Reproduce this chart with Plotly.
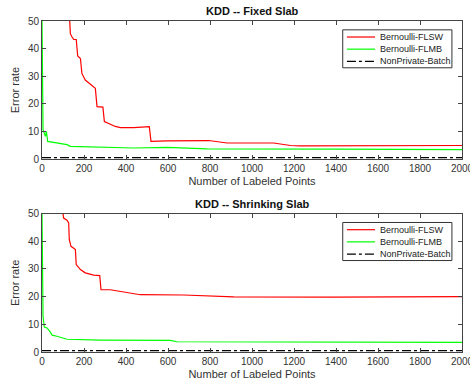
import plotly.graph_objects as go

# ---- data: top panel (Fixed Slab) ----
fixed_flsw_x = [132, 135, 143, 151, 163, 170, 183, 190, 206, 246, 254, 262, 290, 297, 325, 349, 373, 437, 511, 519, 595, 754, 794, 881, 1103, 1183, 1230, 2000]
fixed_flsw_y = [50, 45.4, 44.2, 43.3, 43.3, 37.3, 36.4, 31, 28.6, 26.2, 25.6, 19, 18.8, 13.6, 12.7, 11.8, 11.4, 11.4, 11.7, 6.4, 6.6, 6.7, 6.7, 5.8, 5.8, 4.9, 4.8, 4.9]
fixed_flmb_x = [0, 5, 16, 21, 27, 56, 119, 135, 278, 437, 595, 786, 1389, 2000]
fixed_flmb_y = [50, 10.6, 8.2, 10, 6.4, 6.0, 5.2, 4.6, 4.3, 4.0, 4.2, 3.7, 3.6, 3.4]

# ---- data: bottom panel (Shrinking Slab) ----
shr_flsw_x = [100, 103, 119, 127, 130, 138, 151, 159, 163, 183, 206, 246, 275, 281, 325, 389, 468, 675, 786, 913, 1389, 2000]
shr_flsw_y = [50, 48.4, 47.6, 46.6, 40.6, 38.2, 37.5, 37, 31.6, 29.8, 28.6, 27.8, 27.6, 22.5, 22.5, 21.6, 20.7, 20.6, 20.4, 19.9, 19.8, 20.0]
shr_flmb_x = [0, 5, 11, 24, 40, 48, 71, 103, 119, 278, 437, 611, 643, 1389, 1800, 2000]
shr_flmb_y = [50, 12.9, 9, 8.7, 7.2, 6.1, 5.7, 4.9, 4.6, 4.3, 4.2, 4.2, 3.7, 3.7, 3.7, 3.5]

batch_x = [0, 2000]
batch_y = [0.5, 0.5]

titles = ["KDD -- Fixed Slab", "KDD -- Shrinking Slab"]
names = ["Bernoulli-FLSW", "Bernoulli-FLMB", "NonPrivate-Batch"]
colors = ["#ff0000", "#00ff00", "black"]
dashes = ["solid", "solid", "dashdot"]
x_ticks = list(range(0, 2001, 200))
y_ticks = list(range(0, 51, 10))

FONT = "Liberation Sans, Arial, sans-serif"
fig = go.Figure()

panels = [
    (fixed_flsw_x, fixed_flsw_y, fixed_flmb_x, fixed_flmb_y, "x", "y"),
    (shr_flsw_x, shr_flsw_y, shr_flmb_x, shr_flmb_y, "x2", "y2"),
]
shapes = []
annotations = []
for fx, fy, gx, gy, xa, ya in panels:
    for (sx, sy), nm, c, d in zip([(fx, fy), (gx, gy), (batch_x, batch_y)], names, colors, dashes):
        fig.add_trace(go.Scatter(x=sx, y=sy, mode="lines", name=nm, xaxis=xa, yaxis=ya,
                                 showlegend=False, line=dict(color=c, width=1.2, dash=d)))
    # legend box (MATLAB style)
    xr, yr = xa + " domain", ya + " domain"
    shapes.append(dict(type="rect", xref=xr, yref=yr, x0=0.716, x1=0.976, y0=0.661, y1=0.936,
                       line=dict(color="#333", width=1), fillcolor="white", layer="above"))
    for i, (nm, c, d) in enumerate(zip(names, colors, dashes)):
        yy = 0.884 - i * 0.088
        shapes.append(dict(type="line", xref=xr, yref=yr, x0=0.726, x1=0.793, y0=yy, y1=yy,
                           line=dict(color=c, width=1.2, dash=d), layer="above"))
        annotations.append(dict(text=nm, xref=xr, yref=yr, x=0.801, y=yy, xanchor="left",
                                yanchor="middle", showarrow=False,
                                font=dict(size=9, color="#222", family=FONT)))

axis_common = dict(showline=True, mirror="allticks", linecolor="#444", linewidth=1,
                   ticks="inside", ticklen=4, tickcolor="#444", showgrid=False, zeroline=False,
                   ticklabeloverflow="allow", automargin=False,
                   tickfont=dict(size=10, color="#333", family=FONT))

annotations += [
    dict(text="<b>" + titles[0] + "</b>", x=0.5, y=1.0, xref="paper", yref="paper",
         xanchor="center", yanchor="bottom", yshift=2, showarrow=False, font=dict(size=11, color="#111")),
    dict(text="<b>" + titles[1] + "</b>", x=0.5, y=0.418, xref="paper", yref="paper",
         xanchor="center", yanchor="bottom", yshift=2, showarrow=False, font=dict(size=11, color="#111")),
]

fig.update_layout(
    width=470, height=383,
    margin=dict(l=42, r=8, t=21, b=31),
    paper_bgcolor="white", plot_bgcolor="white",
    font=dict(family=FONT, size=10, color="#333"),
    showlegend=False,
    xaxis=dict(domain=[0, 1], range=[0, 2000], tickvals=x_ticks, anchor="y",
               title=dict(text="Number of Labeled Points", font=dict(size=11), standoff=4), **axis_common),
    yaxis=dict(domain=[0.583, 1], range=[0, 50], tickvals=y_ticks, anchor="x",
               title=dict(text="Error rate", font=dict(size=11), standoff=6), **axis_common),
    xaxis2=dict(domain=[0, 1], range=[0, 2000], tickvals=x_ticks, anchor="y2",
                title=dict(text="Number of Labeled Points", font=dict(size=11), standoff=4), **axis_common),
    yaxis2=dict(domain=[0, 0.418], range=[0, 50], tickvals=y_ticks, anchor="x2",
                title=dict(text="Error rate", font=dict(size=11), standoff=6), **axis_common),
    shapes=shapes,
    annotations=annotations,
)

fig.write_html("out.html")
